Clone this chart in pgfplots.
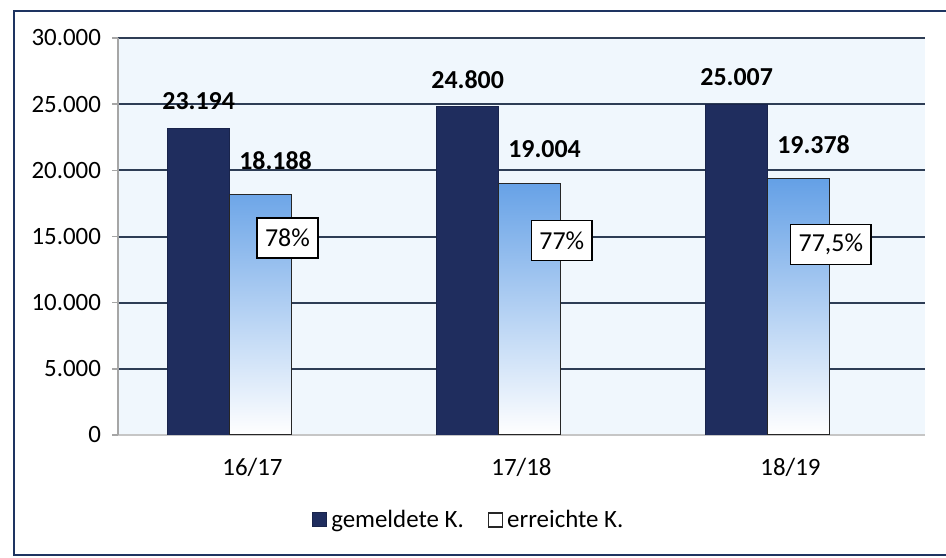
\documentclass[border=0pt]{standalone}
\usepackage{pgfplots}
\pgfplotsset{compat=1.18}
\usepackage{fontspec}
\setmainfont{Carlito}
\definecolor{navybar}{HTML}{1F2D5E}
\definecolor{lightbar}{HTML}{64A0E6}
\definecolor{gridc}{HTML}{2E3D55}
\definecolor{bgblue}{HTML}{F0F7FD}
\definecolor{framec}{HTML}{1E3461}

\begin{document}
\begin{tikzpicture}
\useasboundingbox (0,0) rectangle (473bp,279bp);
\begin{axis}[
    at={(59bp,61.5bp)}, anchor=south west,
    scale only axis,
    width=403.5bp, height=198.5bp,
    ybar,
    bar width=0.23,
    xmin=-0.5, xmax=2.5,
    ymin=0, ymax=30000,
    xtick={0,1,2},
    xticklabels={16/17, 17/18, 18/19},
    ytick={5000,10000,...,30000},
    extra y ticks={0},
    extra y tick style={grid=none},
    ymajorgrids,
    grid style={gridc, line width=1bp},
    axis background/.style={fill=bgblue},
    axis x line*=bottom,
    axis y line*=left,
    x axis line style={gray!45, line width=0.8bp, -},
    y axis line style={gray!70, line width=0.8bp, -},
    tick align=outside,
    major tick length=3bp,
    xtick style={draw=none},
    ytick style={gray!70, line width=0.8bp},
    scaled y ticks=false,
    /pgf/number format/fixed,
    /pgf/number format/precision=0,
    /pgf/number format/1000 sep={.},
    /pgf/number format/assume math mode=true,
    font=\fontsize{12.5}{14}\selectfont,
    xticklabel style={yshift=-5bp},
    yticklabel style={xshift=-2bp},
    legend style={at={(0.436,-0.214)}, anchor=center, draw=none, fill=none,
        legend columns=2, font=\fontsize{12.5}{14}\selectfont,
        /tikz/every even column/.append style={column sep=10bp}},
    nodes near coords,
    nodes near coords style={font=\fontsize{13}{15}\selectfont\bfseries, anchor=center},
]
\addplot[fill=navybar, draw=navybar!80!black, line width=0.5bp, bar shift=-0.2,
    every node near coord/.append style={yshift=13.5bp},
    legend image code/.code={\draw[fill=navybar, draw=navybar!80!black, line width=0.5bp] (0bp,-3.5bp) rectangle (7bp,3.5bp);}]
    coordinates {(0,23194) (1,24800) (2,25007)};
\addplot[top color=lightbar, bottom color=white, draw=black!85, line width=0.7bp, bar shift=0.03,
    forget plot,
    every node near coord/.append style={yshift=17bp, xshift=7.5bp}]
    coordinates {(0,18188) (1,19004) (2,19378)};
\addlegendimage{legend image code/.code={\draw[fill=white, draw=black!85, line width=0.7bp] (0bp,-3.5bp) rectangle (7bp,3.5bp);}}
\legend{gemeldete K., erreichte K.}
\addplot[only marks, mark=none, bar shift=0, forget plot,
    nodes near coords=\pgfplotspointmeta,
    point meta=explicit symbolic,
    nodes near coords style={font=\fontsize{13}{15}\selectfont, anchor=center,
        draw=black, line width=0.8bp, fill=white, inner xsep=4bp, minimum height=20bp}]
    table[meta=label] {
    x     y      label
    0.13  14900  78\%
    1.15  14700  77\%
    2.15  14400  77,5\%
    };
\end{axis}
\draw[framec, line width=1.3bp] (473bp,273.5bp) -- (7bp,273.5bp) -- (7bp,1.5bp) -- (473bp,1.5bp);
\end{tikzpicture}
\end{document}
